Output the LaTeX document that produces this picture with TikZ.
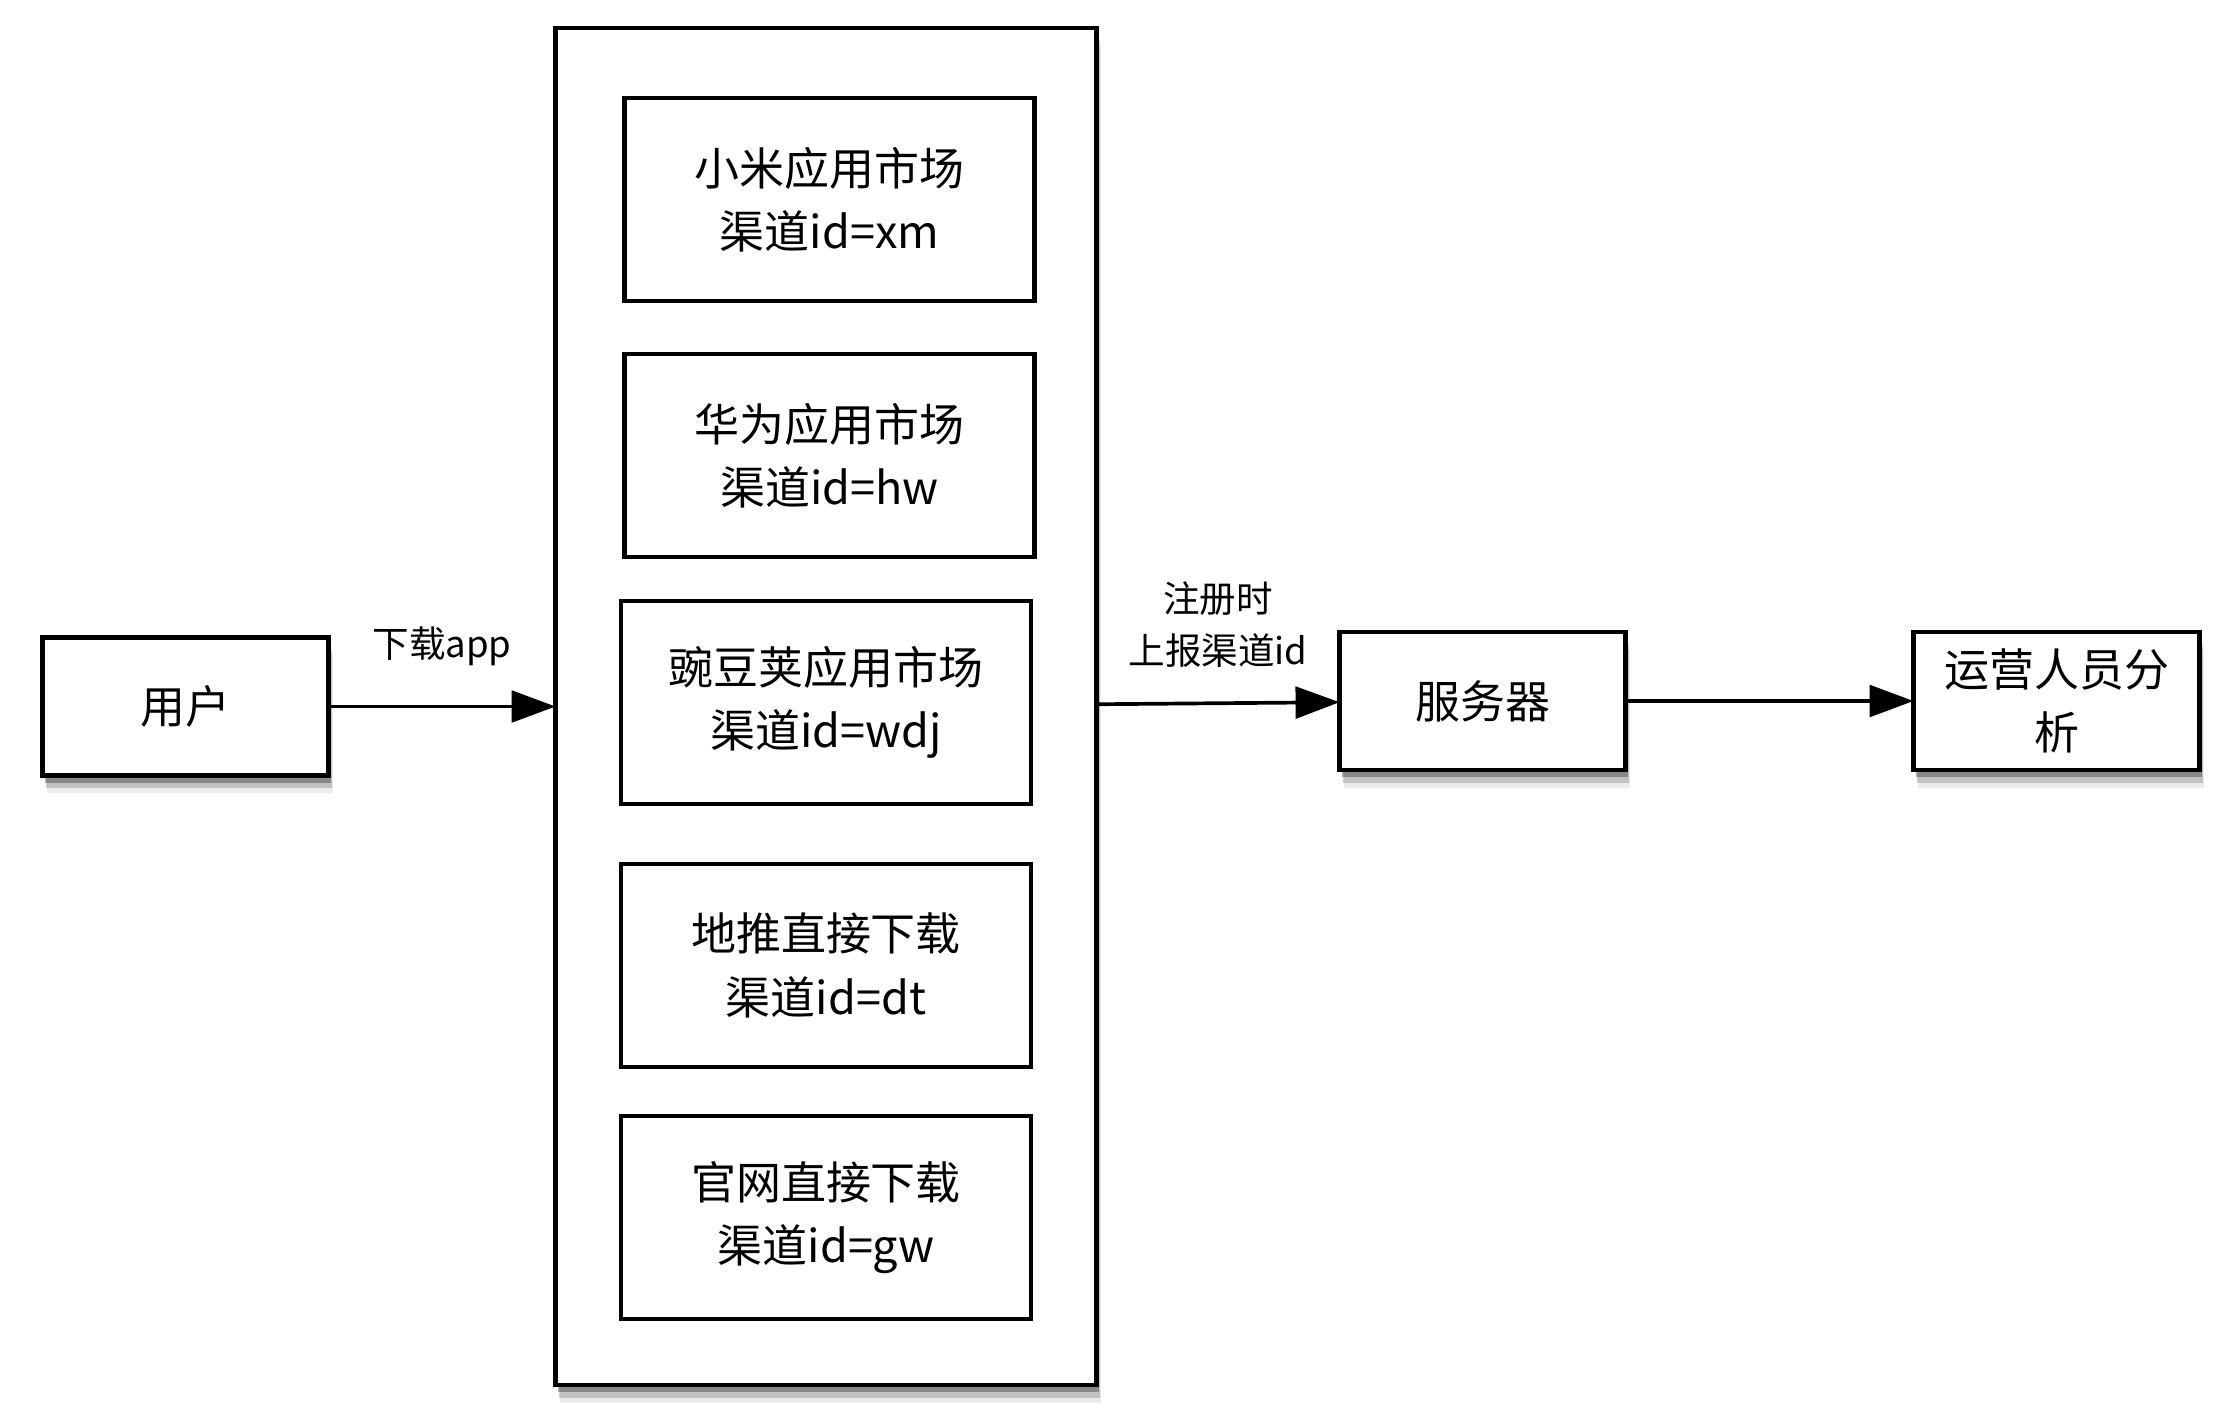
\documentclass[tikz,border=0pt]{standalone}
\usepackage{fontspec}
\setmainfont{Noto Sans CJK SC}
\usetikzlibrary{arrows.meta,positioning,shadows}
\tikzset{
  block/.style={
    draw,
    line width=1.25pt,
    fill=white,
    outer sep=0pt,
    inner sep=0pt,
    align=center,
    minimum width=2.86cm,
    minimum height=1.38cm,
    font=\fontsize{12.8}{18}\selectfont
  },
  soft shadow/.style={
    drop shadow={shadow xshift=1.2pt, shadow yshift=-5pt, opacity=.08, fill=black},
    drop shadow={shadow xshift=.9pt, shadow yshift=-3.6pt, opacity=.18, fill=black},
    drop shadow={shadow xshift=.6pt, shadow yshift=-2pt, opacity=.3, fill=black}
  },
  shadow block/.style={
    block,
    soft shadow
  },
  channel/.style={
    block,
    minimum width=4.10cm,
    minimum height=2.03cm
  },
  tag/.style={
    font=\fontsize{10.4}{14.8}\selectfont,
    align=center
  }
}

\begin{document}
\begin{tikzpicture} [>={Triangle[length=12.5pt, width=9pt]}, line width=1.05pt]
 \useasboundingbox (0,0) rectangle (22.4,-14.08);

 \node[shadow block] (user) at (1.855,-7.065) {用户};
 \node[shadow block, minimum width=5.41cm, minimum height=13.57cm] (channels) [right=2.27cm of user] {};
 \node[channel] (m_1) [below=0.70cm of channels.north, xshift=0.35mm] {小米应用市场\\渠道id=xm};
 \node[channel] (m_2) [below=0.53cm of m_1] {华为应用市场\\渠道id=hw};
 \node[channel] (m_3) [below=0.44cm of m_2, xshift=-0.35mm] {豌豆荚应用市场\\渠道id=wdj};
 \node[channel] (m_4) [below=0.60cm of m_3] {地推直接下载\\渠道id=dt};
 \node[channel] (m_5) [below=0.49cm of m_4] {官网直接下载\\渠道id=gw};
 \node[shadow block] (server) [right=2.43cm of channels, yshift=0.55mm] {服务器};
 \node[shadow block] (ops) [right=2.88cm of server] {运营人员分\\析};

  \path[->]
  (user) edge node[tag, yshift=6mm] {下载app} (channels)
  (channels) edge node[tag, yshift=7.85mm] {注册时\\上报渠道id} (server)
  (server) edge (ops);
\end{tikzpicture}
\end{document}
